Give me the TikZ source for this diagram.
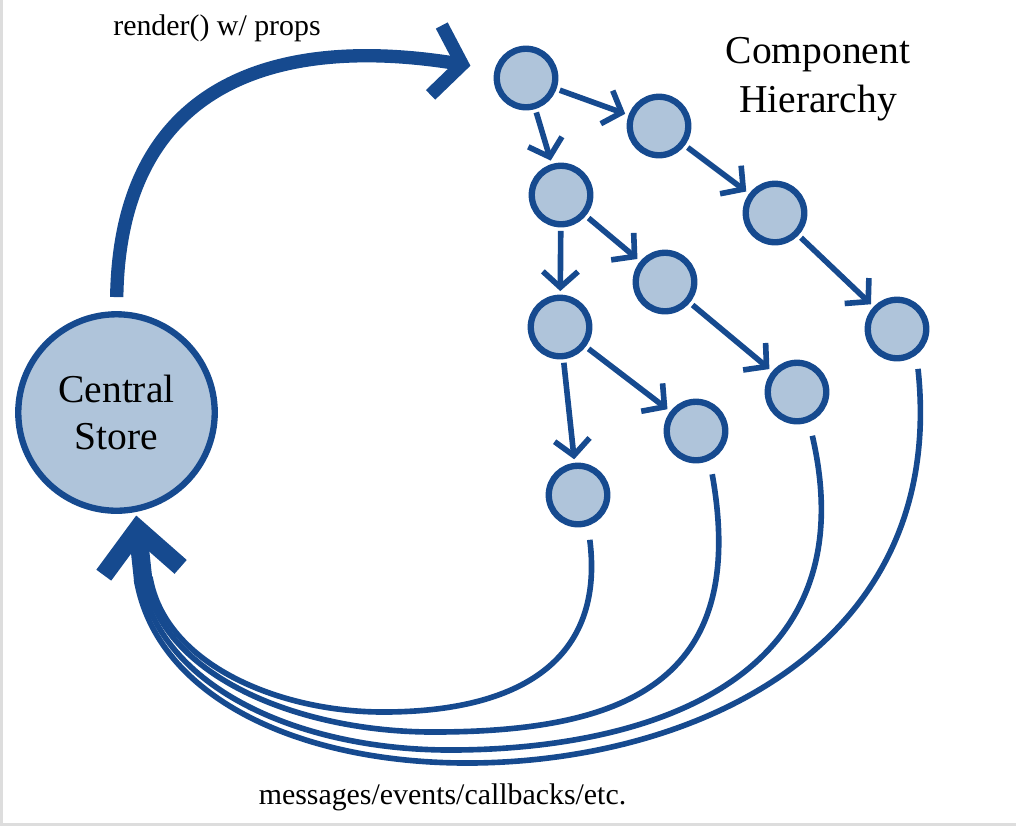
\documentclass[tikz,border=0pt]{standalone}
\usepackage{fontspec}
\setmainfont{Liberation Serif}
\usetikzlibrary{arrows.meta}

\definecolor{darkblue}{RGB}{22,74,143}
\definecolor{lightblue}{RGB}{175,196,218}
\definecolor{framegray}{RGB}{221,221,221}

\begin{document}
\begin{tikzpicture}[x=0.02cm, y=-0.02cm,
	comp/.style={circle, draw=darkblue, fill=lightblue, line width=3.6pt, minimum size=1.17cm, inner sep=0pt},
	flow/.style={darkblue, line width=3.2pt, -{Straight Barb[length=9pt, width=20pt]}, shorten <=2pt, shorten >=2pt},
	backline/.style={darkblue, line width=3.2pt, shorten <=8pt},
	label/.style={font=\fontsize{17}{20}\selectfont}]
	\useasboundingbox (0,0) rectangle (1016,826);
	% screenshot frame
	\fill[framegray] (0,0) rectangle (3,826);
	\fill[framegray] (0,823) rectangle (1016,826);

	% the store
	\node[comp, minimum size=3.93cm, align=center, font=\fontsize{22.5}{27}\selectfont] (store) at (116.5,412.5) {Central\\Store};

	% the component tree
	\node[comp] (c1) at (526,78) {};
	\node[comp] (c2) at (659,126) {};
	\node[comp] (c3) at (561,195) {};
	\node[comp] (c4) at (775,213) {};
	\node[comp] (c5) at (665,282) {};
	\node[comp] (c6) at (560,327) {};
	\node[comp] (c7) at (897,329) {};
	\node[comp] (c8) at (797,392) {};
	\node[comp] (c9) at (696,431) {};
	\node[comp] (c10) at (578,495) {};
	\node[align=center, font=\fontsize{22.5}{28}\selectfont] (title) at (818,79) {Component\\Hierarchy};

	% parent to child
	\draw[flow] (c1) -- (c2);
	\draw[flow] (c1) -- (c3);
	\draw[flow] (c2) -- (c4);
	\draw[flow] (c4) -- (c7);
	\draw[flow] (c3) -- (c5);
	\draw[flow] (c3) -- (c6);
	\draw[flow] (c5) -- (c8);
	\draw[flow] (c6) -- (c9);
	\draw[flow] (c6) -- (c10);

	% store renders the tree
	\draw[darkblue, line width=7.6pt, -{Straight Barb[length=15pt, width=40pt]}, shorten <=8pt, shorten >=14pt]
		(store.north) .. controls (120,80) and (280,35) .. (c1.165);
	\node[label] (render) at (217,28) {render() w/ props};

	% messages back to the store
	\coordinate (merge) at (143.5,583);
	\coordinate (in1) at (150,577);
	\coordinate (in2) at (145.5,578);
	\coordinate (in3) at (141,579);
	\coordinate (in4) at (136.5,580);
	\draw[backline] (c10.-72) .. controls (605,660) and (520,712) .. (383,712)
		.. controls (280,712) and (165,665) .. (in1);
	\draw[backline] (c9.-65) .. controls (750,685) and (620,732) .. (433,732)
		.. controls (300,732) and (162,677) .. (in2);
	\draw[backline] (c8.-68) .. controls (870,685) and (640,750) .. (450,750)
		.. controls (300,750) and (160,688) .. (in3);
	\draw[backline] (c7.-53) .. controls (948,650) and (690,763) .. (467,763)
		.. controls (300,763) and (157,698) .. (in4);
	\draw[darkblue, line width=10.5pt, -{Straight Barb[length=24pt, width=44pt]}, shorten >=2pt] (merge) -- (store.-79);
	\node[label] (msgs) at (442.5,797) {messages/events/callbacks/etc.};
\end{tikzpicture}
\end{document}
